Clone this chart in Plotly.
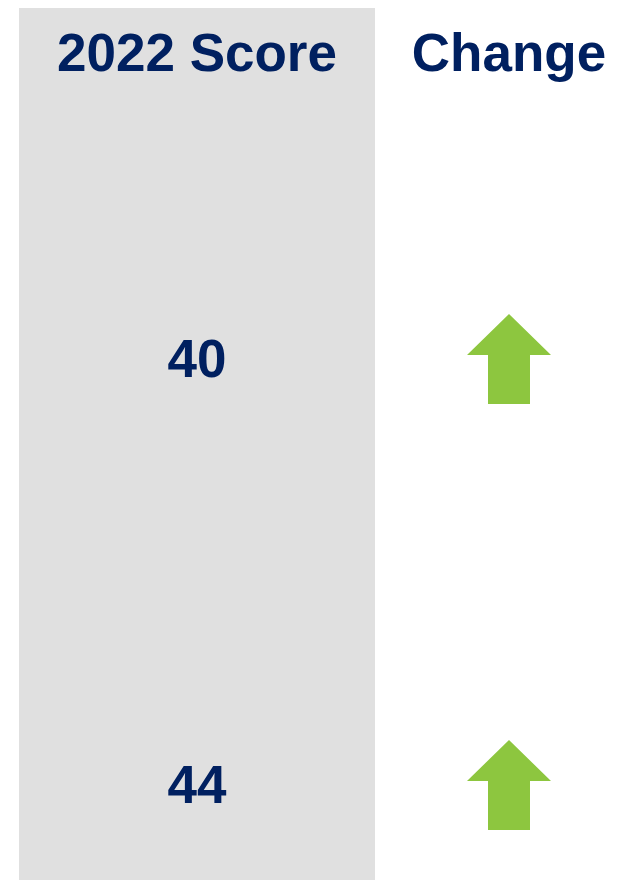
import plotly.graph_objects as go

# Table data
headers = ["2022 Score", "Change"]
scores = [40, 44]
changes = ["up", "up"]

NAVY = "#002060"
GREEN = "#8DC63F"
GREY = "#E0E0E0"
FONT = "Liberation Sans, Arial, sans-serif"

# px per data unit (figure is 631x880, no margins; page body adds 8px)
XU = 312.0
YU = 426.0
TXT = 4 / YU  # nudge text down to line up with the arrows

fig = go.Figure()

# grey band behind the score column
fig.add_shape(type="rect", xref="x", yref="y",
              x0=-178 / XU, x1=178 / XU, y0=-355 / YU, y1=1.3,
              fillcolor=GREY, line=dict(width=0), layer="below")

# header row
fig.add_trace(go.Scatter(
    x=list(range(len(headers))), y=[-306.5 / YU + TXT] * len(headers),
    mode="text", text=headers, textposition="middle center",
    textfont=dict(family=FONT, size=53, color=NAVY, weight="bold"),
    hoverinfo="skip", showlegend=False))

# score values
rows = list(range(len(scores)))
fig.add_trace(go.Scatter(
    x=[0] * len(scores), y=[r + TXT for r in rows],
    mode="text", text=[str(s) for s in scores], textposition="middle center",
    textfont=dict(family=FONT, size=53, color=NAVY, weight="bold"),
    hoverinfo="skip", showlegend=False))

# change arrows (filled polygons around each row centre)
hw, sw = 42 / XU, 21 / XU
top, base, bot = -46 / YU, -5 / YU, 44 / YU
for r, ch in zip(rows, changes):
    sgn = 1 if ch == "up" else -1
    px = [1, 1 + hw, 1 + sw, 1 + sw, 1 - sw, 1 - sw, 1 - hw, 1]
    py = [r + sgn * top, r + sgn * base, r + sgn * base, r + sgn * bot,
          r + sgn * bot, r + sgn * base, r + sgn * base, r + sgn * top]
    fig.add_trace(go.Scatter(
        x=px, y=py, mode="lines", fill="toself", fillcolor=GREEN,
        line=dict(width=0, color=GREEN), hoverinfo="skip", showlegend=False))

fig.update_layout(
    width=631, height=880,
    margin=dict(l=0, r=0, t=0, b=0),
    paper_bgcolor="white", plot_bgcolor="white",
    xaxis=dict(range=[-189 / XU, 442 / XU], visible=False, fixedrange=True),
    yaxis=dict(range=[528 / YU, -352 / YU], visible=False, fixedrange=True),
)

fig.write_html("out.html")
